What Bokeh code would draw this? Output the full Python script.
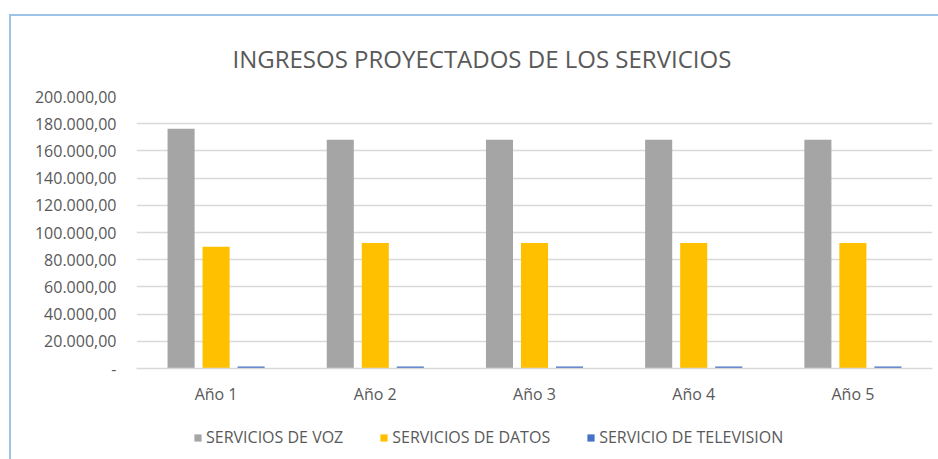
from bokeh.plotting import figure
from bokeh.layouts import column
from bokeh.models import FactorRange, Range1d, FixedTicker, Legend, LegendItem, ColumnDataSource
from bokeh.transform import dodge
from bokeh.embed import file_html
from bokeh.resources import INLINE

# ---- data ----
years = ["Año 1", "Año 2", "Año 3", "Año 4", "Año 5"]
voz = [176300, 168200, 168200, 168200, 168200]
datos = [89600, 92300, 92300, 92300, 92300]
tv = [1500, 1500, 1500, 1500, 1500]
series_names = ["SERVICIOS DE VOZ", "SERVICIOS DE DATOS", "SERVICIO DE TELEVISION"]
series_colors = ["#A5A5A5", "#FFC000", "#4472C4"]
y_ticks = [0, 20000, 40000, 60000, 80000, 100000, 120000, 140000, 160000, 180000, 200000]
y_tick_labels = ["-", "20.000,00", "40.000,00", "60.000,00", "80.000,00", "100.000,00",
                 "120.000,00", "140.000,00", "160.000,00", "180.000,00", "200.000,00"]
title_text = "INGRESOS PROYECTADOS DE LOS SERVICIOS"

src = ColumnDataSource(dict(years=years, voz=voz, datos=datos, tv=tv))

FONT = "Open Sans"
TXT = "#595959"
GRID = "#D9D9D9"

p = figure(width=927, height=392, x_range=FactorRange(*years), y_range=Range1d(0, 200000),
           output_backend="svg", toolbar_location=None, title=title_text,
           min_border_left=125, min_border_right=6, min_border_top=80, min_border_bottom=40)
p.outline_line_color = None
p.background_fill_color = "white"
p.border_fill_color = "white"

p.title.text_font = FONT
p.title.text_font_size = "24px"
p.title.text_font_style = "normal"
p.title.text_color = TXT
p.title.align = "left"
p.title.offset = 96
p.title.standoff = 44

offs = [-0.22, 0.0, 0.22]
fields = ["voz", "datos", "tv"]
for f, o, c in zip(fields, offs, series_colors):
    p.vbar(x=dodge("years", o, range=p.x_range), top=f, width=0.17, source=src,
           fill_color=c, line_color=None)

p.xgrid.grid_line_color = None
p.ygrid.grid_line_color = GRID
p.ygrid.grid_line_width = 1.3
p.ygrid.ticker = FixedTicker(ticks=y_ticks)

p.yaxis.ticker = FixedTicker(ticks=y_ticks)
p.yaxis.major_label_overrides = {t: l for t, l in zip(y_ticks, y_tick_labels)}
p.yaxis.axis_line_color = None
p.yaxis.major_tick_line_color = None
p.yaxis.minor_tick_line_color = None
p.yaxis.major_tick_out = 0
p.yaxis.major_label_standoff = 20
p.yaxis.major_label_text_font = FONT
p.yaxis.major_label_text_font_size = "16px"
p.yaxis.major_label_text_color = TXT

p.xaxis.axis_line_color = GRID
p.xaxis.axis_line_width = 1.3
p.xaxis.major_tick_line_color = None
p.xaxis.minor_tick_line_color = None
p.xaxis.major_tick_out = 0
p.xaxis.major_label_standoff = 14
p.xaxis.major_label_text_font = FONT
p.xaxis.major_label_text_font_size = "16px"
p.xaxis.major_label_text_color = TXT

# ---- legend strip (separate figure below the chart; its bars have no area) ----
lf = figure(width=927, height=51, x_range=FactorRange(*years), y_range=Range1d(-2, -1),
            output_backend="svg", toolbar_location=None,
            x_axis_type=None, y_axis_type=None,
            min_border_left=0, min_border_right=0, min_border_top=0, min_border_bottom=0)
lf.outline_line_color = None
lf.xgrid.grid_line_color = None
lf.ygrid.grid_line_color = None
lf.background_fill_color = "white"
lf.border_fill_color = "white"

leg_renderers = [lf.vbar(x="years", top=f, width=0.0, source=src, fill_color=c, line_color=None)
                 for f, c in zip(fields, series_colors)]

legend = Legend(items=[LegendItem(label=n, renderers=[r]) for n, r in zip(series_names, leg_renderers)],
                orientation="horizontal", location=(57, 11))
legend.glyph_width = 9
legend.glyph_height = 9
legend.label_standoff = 4
legend.spacing = 36
legend.padding = 0
legend.margin = 0
legend.border_line_color = None
legend.background_fill_alpha = 0
legend.label_text_font = FONT
legend.label_text_font_size = "16px"
legend.label_text_color = TXT
legend.label_height = 18
lf.add_layout(legend, "center")

layout = column(p, lf, spacing=0, margin=(14, 0, 0, 9),
                styles={"border-top": "2px solid #9DC3E6", "border-left": "2px solid #9DC3E6"})

open("out.html", "w").write(file_html(layout, INLINE))
